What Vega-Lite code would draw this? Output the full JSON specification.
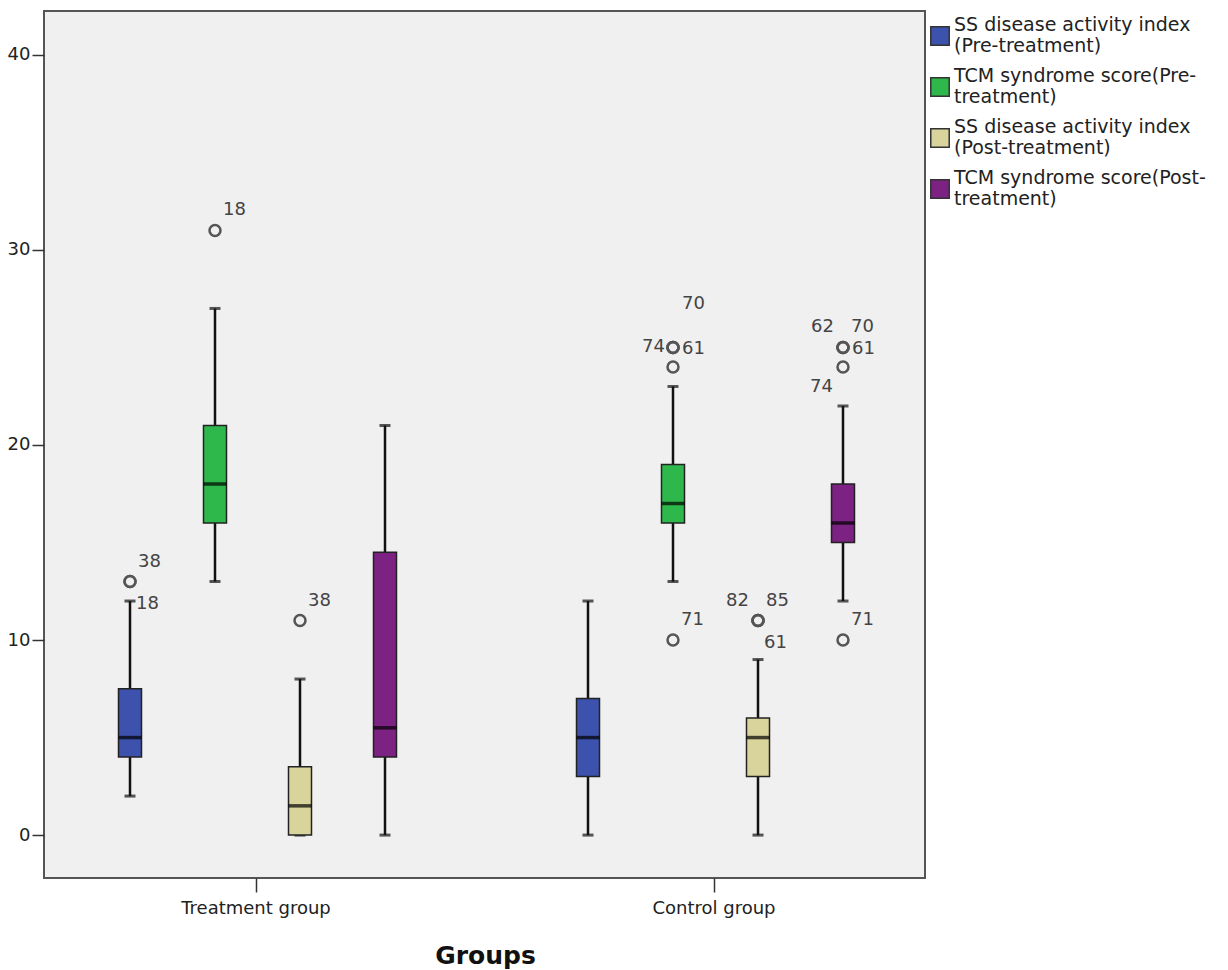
{
  "$schema": "https://vega.github.io/schema/vega-lite/v6.json",
  "width": 881,
  "height": 867,
  "autosize": {"type": "none"},
  "padding": {"left": 44, "top": 11, "right": 303, "bottom": 92},
  "background": "white",
  "config": {
    "view": {"fill": "#f0f0f0", "stroke": "#555555", "strokeWidth": 2},
    "font": "DejaVu Sans"
  },
  "datasets": {
    "boxes": [
      {"group": "Treatment group", "series": "SS disease activity index (Pre-treatment)", "lower": 2, "q1": 4, "median": 5, "q3": 7.5, "upper": 12},
      {"group": "Treatment group", "series": "TCM syndrome score(Pre-treatment)", "lower": 13, "q1": 16, "median": 18, "q3": 21, "upper": 27},
      {"group": "Treatment group", "series": "SS disease activity index (Post-treatment)", "lower": 0, "q1": 0, "median": 1.5, "q3": 3.5, "upper": 8},
      {"group": "Treatment group", "series": "TCM syndrome score(Post-treatment)", "lower": 0, "q1": 4, "median": 5.5, "q3": 14.5, "upper": 21},
      {"group": "Control group", "series": "SS disease activity index (Pre-treatment)", "lower": 0, "q1": 3, "median": 5, "q3": 7, "upper": 12},
      {"group": "Control group", "series": "TCM syndrome score(Pre-treatment)", "lower": 13, "q1": 16, "median": 17, "q3": 19, "upper": 23},
      {"group": "Control group", "series": "SS disease activity index (Post-treatment)", "lower": 0, "q1": 3, "median": 5, "q3": 6, "upper": 9},
      {"group": "Control group", "series": "TCM syndrome score(Post-treatment)", "lower": 12, "q1": 15, "median": 16, "q3": 18, "upper": 22}
    ],
    "outliers": [
      {"group": "Treatment group", "series": "SS disease activity index (Pre-treatment)", "value": 13, "label": "38", "pos": "ur"},
      {"group": "Treatment group", "series": "SS disease activity index (Pre-treatment)", "value": 13, "label": "18", "pos": "lr"},
      {"group": "Treatment group", "series": "TCM syndrome score(Pre-treatment)", "value": 31, "label": "18", "pos": "ur"},
      {"group": "Treatment group", "series": "SS disease activity index (Post-treatment)", "value": 11, "label": "38", "pos": "ur"},
      {"group": "Control group", "series": "TCM syndrome score(Pre-treatment)", "value": 25, "label": "74", "pos": "l"},
      {"group": "Control group", "series": "TCM syndrome score(Pre-treatment)", "value": 25, "label": "61", "pos": "r"},
      {"group": "Control group", "series": "TCM syndrome score(Pre-treatment)", "value": 25, "label": "70", "pos": "uu"},
      {"group": "Control group", "series": "TCM syndrome score(Pre-treatment)", "value": 24, "label": "", "pos": "none"},
      {"group": "Control group", "series": "TCM syndrome score(Pre-treatment)", "value": 10, "label": "71", "pos": "ur"},
      {"group": "Control group", "series": "SS disease activity index (Post-treatment)", "value": 11, "label": "82", "pos": "ul"},
      {"group": "Control group", "series": "SS disease activity index (Post-treatment)", "value": 11, "label": "85", "pos": "ur"},
      {"group": "Control group", "series": "SS disease activity index (Post-treatment)", "value": 11, "label": "61", "pos": "lr"},
      {"group": "Control group", "series": "TCM syndrome score(Post-treatment)", "value": 25, "label": "62", "pos": "ul"},
      {"group": "Control group", "series": "TCM syndrome score(Post-treatment)", "value": 25, "label": "70", "pos": "ur"},
      {"group": "Control group", "series": "TCM syndrome score(Post-treatment)", "value": 25, "label": "61", "pos": "r"},
      {"group": "Control group", "series": "TCM syndrome score(Post-treatment)", "value": 24, "label": "74", "pos": "ll"},
      {"group": "Control group", "series": "TCM syndrome score(Post-treatment)", "value": 10, "label": "71", "pos": "ur"}
    ]
  },
  "encoding": {
    "x": {
      "field": "group", "type": "nominal", "sort": null,
      "scale": {"domain": ["Treatment group", "Control group"], "range": [-17, 899], "paddingInner": 0, "paddingOuter": 0},
      "axis": {
        "title": "Groups", "titleFontSize": 25, "titleFontWeight": "bold", "titleColor": "#111111", "titlePadding": 26,
        "labelFontSize": 18, "labelColor": "#222222", "labelAngle": 0, "labelPadding": 7,
        "tickSize": 14, "tickColor": "#333333", "tickWidth": 1.5, "domain": false
      }
    },
    "xOffset": {
      "field": "series", "type": "nominal", "sort": null,
      "scale": {"domain": ["SS disease activity index (Pre-treatment)", "TCM syndrome score(Pre-treatment)", "SS disease activity index (Post-treatment)", "TCM syndrome score(Post-treatment)"], "range": [60.5, 400.5], "paddingInner": 0, "paddingOuter": 0}
    }
  },
  "layer": [
    {
      "data": {"name": "boxes"},
      "mark": {"type": "rule", "color": "#111111", "strokeWidth": 2.5},
      "encoding": {
        "y": {"field": "lower", "type": "quantitative", "title": null,
          "scale": {"domain": [-2.2, 42.25], "nice": false, "zero": false},
          "axis": {"values": [0, 10, 20, 30, 40], "grid": false, "domain": false, "tickSize": 12, "tickColor": "#333333", "tickWidth": 1.5, "labelFontSize": 18, "labelColor": "#222222", "labelPadding": 2}},
        "y2": {"field": "upper"}
      }
    },
    {
      "data": {"name": "boxes"},
      "mark": {"type": "tick", "color": "#111111", "size": 11, "thickness": 3},
      "encoding": {"y": {"field": "upper", "type": "quantitative", "title": null}}
    },
    {
      "data": {"name": "boxes"},
      "mark": {"type": "tick", "color": "#111111", "size": 11, "thickness": 3},
      "encoding": {"y": {"field": "lower", "type": "quantitative", "title": null}}
    },
    {
      "data": {"name": "boxes"},
      "mark": {"type": "bar", "width": 23, "stroke": "#222222", "strokeWidth": 1.5, "opacity": 1},
      "encoding": {
        "y": {"field": "q1", "type": "quantitative", "title": null},
        "y2": {"field": "q3"},
        "color": {
          "field": "series", "type": "nominal", "sort": null,
          "scale": {"domain": ["SS disease activity index (Pre-treatment)", "TCM syndrome score(Pre-treatment)", "SS disease activity index (Post-treatment)", "TCM syndrome score(Post-treatment)"], "range": ["#3d52ad", "#2eb84b", "#d9d49c", "#7b2282"]},
          "legend": {
            "title": null, "orient": "none", "legendX": 886, "legendY": 15, "padding": 0,
            "symbolType": "square", "symbolSize": 340, "symbolStrokeColor": "#333333", "symbolStrokeWidth": 1.5, "symbolOpacity": 1,
            "labelFont": "DejaVu Sans", "labelFontSize": 19, "labelColor": "#222222", "labelOffset": 4, "labelLimit": 400, "rowPadding": 11,
            "labelBaseline": "line-bottom",
            "labelExpr": "datum.label == 'SS disease activity index (Pre-treatment)' ? ['SS disease activity index', '(Pre-treatment)'] : datum.label == 'TCM syndrome score(Pre-treatment)' ? ['TCM syndrome score(Pre-', 'treatment)'] : datum.label == 'SS disease activity index (Post-treatment)' ? ['SS disease activity index', '(Post-treatment)'] : ['TCM syndrome score(Post-', 'treatment)']"
          }
        }
      }
    },
    {
      "data": {"name": "boxes"},
      "mark": {"type": "tick", "color": "#000000", "size": 23, "thickness": 3.5},
      "encoding": {"y": {"field": "median", "type": "quantitative", "title": null}}
    },
    {
      "data": {"name": "outliers"},
      "mark": {"type": "point", "shape": "circle", "filled": false, "stroke": "#555555", "strokeWidth": 2.5, "size": 120, "opacity": 1},
      "encoding": {"y": {"field": "value", "type": "quantitative", "title": null}}
    },
    {
      "data": {"name": "outliers"},
      "transform": [{"filter": "datum.pos == 'ur'"}],
      "mark": {"type": "text", "align": "left", "baseline": "middle", "dx": 8, "dy": -20, "fontSize": 18, "color": "#444444"},
      "encoding": {"y": {"field": "value", "type": "quantitative", "title": null}, "text": {"field": "label"}}
    },
    {
      "data": {"name": "outliers"},
      "transform": [{"filter": "datum.pos == 'lr'"}],
      "mark": {"type": "text", "align": "left", "baseline": "middle", "dx": 6, "dy": 22, "fontSize": 18, "color": "#444444"},
      "encoding": {"y": {"field": "value", "type": "quantitative", "title": null}, "text": {"field": "label"}}
    },
    {
      "data": {"name": "outliers"},
      "transform": [{"filter": "datum.pos == 'r'"}],
      "mark": {"type": "text", "align": "left", "baseline": "middle", "dx": 9, "dy": 2, "fontSize": 18, "color": "#444444"},
      "encoding": {"y": {"field": "value", "type": "quantitative", "title": null}, "text": {"field": "label"}}
    },
    {
      "data": {"name": "outliers"},
      "transform": [{"filter": "datum.pos == 'l'"}],
      "mark": {"type": "text", "align": "right", "baseline": "middle", "dx": -8, "dy": 0, "fontSize": 18, "color": "#444444"},
      "encoding": {"y": {"field": "value", "type": "quantitative", "title": null}, "text": {"field": "label"}}
    },
    {
      "data": {"name": "outliers"},
      "transform": [{"filter": "datum.pos == 'ul'"}],
      "mark": {"type": "text", "align": "right", "baseline": "middle", "dx": -9, "dy": -20, "fontSize": 18, "color": "#444444"},
      "encoding": {"y": {"field": "value", "type": "quantitative", "title": null}, "text": {"field": "label"}}
    },
    {
      "data": {"name": "outliers"},
      "transform": [{"filter": "datum.pos == 'll'"}],
      "mark": {"type": "text", "align": "right", "baseline": "middle", "dx": -10, "dy": 20, "fontSize": 18, "color": "#444444"},
      "encoding": {"y": {"field": "value", "type": "quantitative", "title": null}, "text": {"field": "label"}}
    },
    {
      "data": {"name": "outliers"},
      "transform": [{"filter": "datum.pos == 'uu'"}],
      "mark": {"type": "text", "align": "left", "baseline": "middle", "dx": 9, "dy": -43, "fontSize": 18, "color": "#444444"},
      "encoding": {"y": {"field": "value", "type": "quantitative", "title": null}, "text": {"field": "label"}}
    }
  ]
}
